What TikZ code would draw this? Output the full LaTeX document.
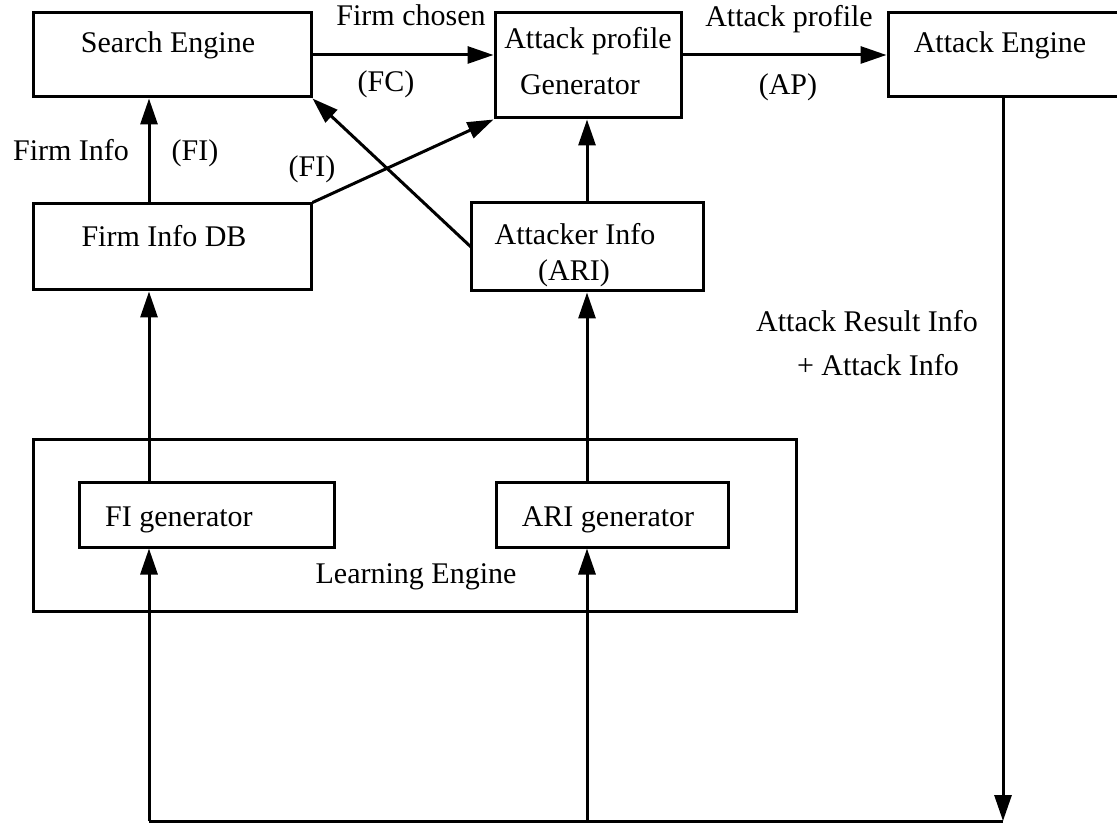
\documentclass[tikz,border=0pt]{standalone}
\usepackage{fontspec}
\setmainfont{Liberation Serif}
\usetikzlibrary{arrows.meta}
\begin{document}
\begin{tikzpicture}[x=1pt,y=-1pt,
  box/.style={draw,line width=3pt,rectangle,inner sep=0pt,minimum width=#1},
  txt/.style={anchor=base,inner sep=0pt,font=\fontsize{30}{36}\selectfont},
  conn/.style={line width=3pt},
  arr/.style={line width=3pt,-{Triangle[length=26pt,width=17pt]}}]
\useasboundingbox (0,0) rectangle (1117,826);
\clip (0,0) rectangle (1117,826);
% boxes
\node[box=278pt,minimum height=84pt] (SE) at (172,55) {};
\node[box=186pt,minimum height=105pt] (APG) at (588,65.5) {};
\node[box=237pt,minimum height=84pt] (AE) at (1006.5,55) {};
\node[box=278pt,minimum height=86pt] (FIDB) at (172,247) {};
\node[box=232pt,minimum height=88pt] (AI) at (587,247) {};
\node[box=763pt,minimum height=172pt] (LE) at (414.5,525) {};
\node[box=255pt,minimum height=65pt] (FIG) at (206.5,514.5) {};
\node[box=232pt,minimum height=65pt] (ARIG) at (612,514.5) {};
% box texts
\node[txt] (tSE) at (168,53) {Search Engine};
\node[txt] (tAPG1) at (588,49) {Attack profile};
\node[txt] (tAPG2) at (580,95) {Generator};
\node[txt] (tAE) at (1000,53) {Attack Engine};
\node[txt] (tFIDB) at (164,247) {Firm Info DB};
\node[txt] (tAI1) at (575,245) {Attacker Info};
\node[txt] (tAI2) at (574,281) {(ARI)};
\node[txt,anchor=base west] (tFIG) at (105,526) {FI generator};
\node[txt] (tARIG) at (608,526) {ARI generator};
\node[txt] (tLE) at (416,583) {Learning Engine};
% connector labels
\node[txt] (lFC1) at (411,26) {Firm chosen};
\node[txt] (lFC2) at (386,92) {(FC)};
\node[txt] (lAP1) at (789,27) {Attack profile};
\node[txt] (lAP2) at (788,95) {(AP)};
\node[txt] (lFI1) at (71,161) {Firm Info};
\node[txt] (lFI2) at (195,161) {(FI)};
\node[txt] (lFI3) at (312,177) {(FI)};
\node[txt] (lAR1) at (867,332) {Attack Result Info};
\node[txt] (lAR2) at (878,376) {+ Attack Info};
% helper coordinates
\coordinate (fx) at (149,0);
\coordinate (ax) at (587,0);
\coordinate (b1) at (149,821);
\coordinate (b2) at (587,821);
\coordinate (b3) at (1003,821);
\coordinate (aiw) at (471,247);
% connectors
\draw[arr] (SE.east) -- (APG.west |- SE.east);
\draw[arr] (APG.east |- AE.west) -- (AE.west);
\draw[arr] (FIDB.north -| fx) -- (SE.south -| fx);
\draw[arr] (FIDB.north east) -- (APG.south west);
\draw[arr] (aiw) -- (SE.south east);
\draw[arr] (AI.north -| ax) -- (APG.south -| ax);
\draw[arr] (FIG.north -| fx) -- (FIDB.south -| fx);
\draw[arr] (ARIG.north -| ax) -- (AI.south -| ax);
\draw[arr] (b1) -- (FIG.south -| b1);
\draw[arr] (b2) -- (ARIG.south -| b2);
\draw[conn] (b1) -- (b3);
\draw[arr] (AE.south -| b3) -- (b3);
\end{tikzpicture}
\end{document}
